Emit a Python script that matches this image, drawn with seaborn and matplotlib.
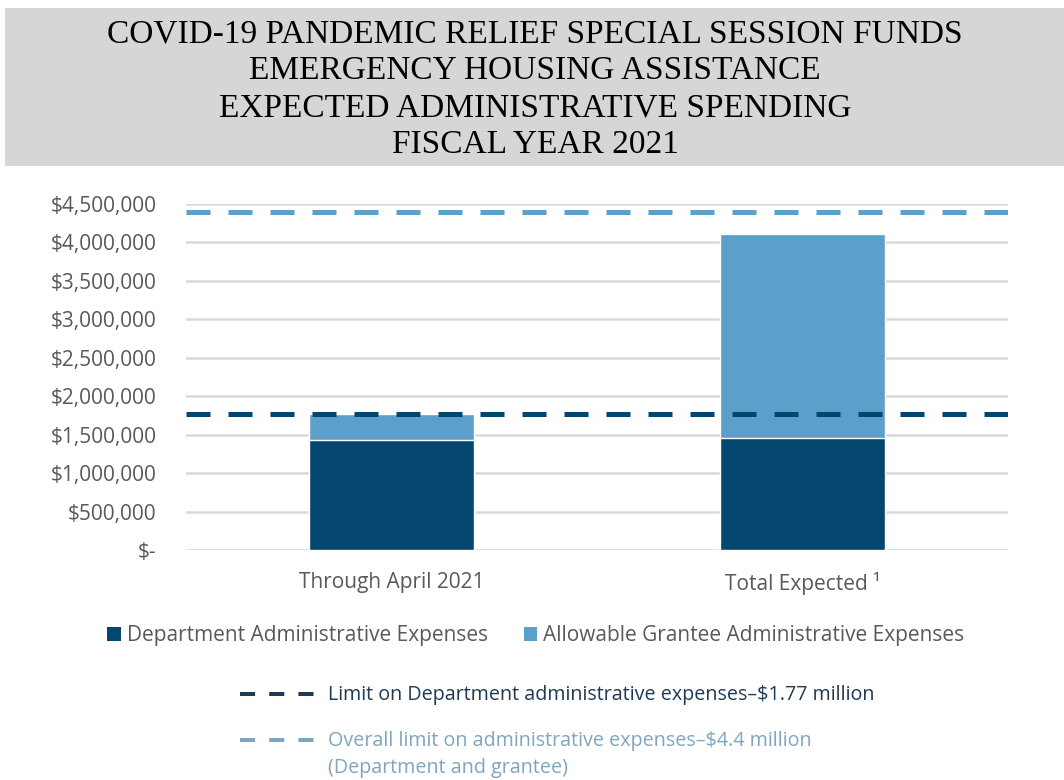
import matplotlib
matplotlib.use("Agg")
import matplotlib.pyplot as plt
import seaborn as sns
import pandas as pd
from matplotlib.patches import Patch, Rectangle
from matplotlib.lines import Line2D
from matplotlib.ticker import FuncFormatter

# Data (dollars)
categories = ["Through April 2021", "Total Expected ¹"]
department_admin = [1_430_000, 1_460_000]
grantee_admin = [340_000, 2_650_000]
department_limit = 1_770_000
overall_limit = 4_400_000
y_ticks = [0, 500_000, 1_000_000, 1_500_000, 2_000_000, 2_500_000,
           3_000_000, 3_500_000, 4_000_000, 4_500_000]
title_lines = [
    "COVID-19 PANDEMIC RELIEF SPECIAL SESSION FUNDS",
    "EMERGENCY HOUSING ASSISTANCE",
    "EXPECTED ADMINISTRATIVE SPENDING",
    "FISCAL YEAR 2021",
]

DARK = "#03476F"
LIGHT = "#5BA0CB"
GRID = "#D9D9D9"
TICK_TXT = "#595959"

sns.set_theme(style="white")
plt.rcParams["font.family"] = ["Open Sans", "DejaVu Sans"]

df = pd.DataFrame({
    "category": categories,
    "department": department_admin,
    "total": [d + g for d, g in zip(department_admin, grantee_admin)],
})

W, H = 1064, 780
fig = plt.figure(figsize=(W / 100, H / 100), dpi=100)
fig.patch.set_facecolor("white")

# Title banner
fig.add_artist(Rectangle((5 / W, 1 - 166 / H), 1 - 5 / W, 158 / H,
                         transform=fig.transFigure, facecolor="#D6D6D6",
                         edgecolor="none", zorder=0))
for i, line in enumerate(title_lines):
    fig.text(535 / W, 1 - (34 + 37 * i) / H, line, ha="center", va="center",
             fontsize=24, family=["Liberation Serif", "DejaVu Serif"],
             color="black")

ax = fig.add_axes([186 / W, 1 - 550 / H, (1008 - 186) / W, (550 - 204) / H])

# Stacked bars: full height in light blue, department share on top in dark blue
sns.barplot(data=df, x="category", y="total", color=LIGHT, width=0.4,
            saturation=1, ax=ax, zorder=3)
sns.barplot(data=df, x="category", y="department", color=DARK, width=0.4,
            saturation=1, ax=ax, zorder=4)

# Limit lines
ax.axhline(department_limit, color=DARK, lw=3.6, ls=(0, (4.8, 3.6)), zorder=5)
ax.axhline(overall_limit, color=LIGHT, lw=3.6, ls=(0, (4.8, 3.6)), zorder=5)

ax.set_xlim(-0.5, 1.5)
ax.set_ylim(0, 4_500_000)
ax.set_yticks(y_ticks)
ax.yaxis.set_major_formatter(
    FuncFormatter(lambda v, _: "$-" if v == 0 else f"${v:,.0f}"))
ax.grid(axis="y", color=GRID, lw=1.8, zorder=0)
ax.set_axisbelow(True)
for s in ax.spines.values():
    s.set_visible(False)
ax.set_xlabel("")
ax.set_ylabel("")
ax.tick_params(axis="y", length=0, pad=21, labelsize=15, labelcolor=TICK_TXT)
ax.tick_params(axis="x", length=0, pad=16, labelsize=15, labelcolor=TICK_TXT)

# Bar legend
handles = [Patch(facecolor=DARK, edgecolor="none"),
           Patch(facecolor=LIGHT, edgecolor="none")]
fig.legend(handles, ["Department Administrative Expenses",
                     "Allowable Grantee Administrative Expenses"],
           loc="center", bbox_to_anchor=(536 / W, 1 - 636 / H), ncol=2,
           frameon=False, fontsize=15, handlelength=0.65, handleheight=0.65,
           handletextpad=0.3, columnspacing=1.7, labelcolor=TICK_TXT)

# Limit line key
key_rows = [
    (694, "#1F3A54", "Limit on Department administrative expenses\u2013$1.77 million"),
    (740, "#7FA6BE", "Overall limit on administrative expenses\u2013$4.4 million\n(Department and grantee)"),
]
for y, col, label in key_rows:
    fig.add_artist(Line2D([240 / W, 317 / W], [1 - y / H, 1 - y / H],
                          transform=fig.transFigure, color=col, lw=2.9,
                          ls=(0, (3.75, 3.5))))
    fig.text(328 / W, 1 - (y - 9) / H, label, ha="left", va="top",
             fontsize=14.2, color=col, linespacing=1.45)

fig.savefig("out.png", dpi=100)
